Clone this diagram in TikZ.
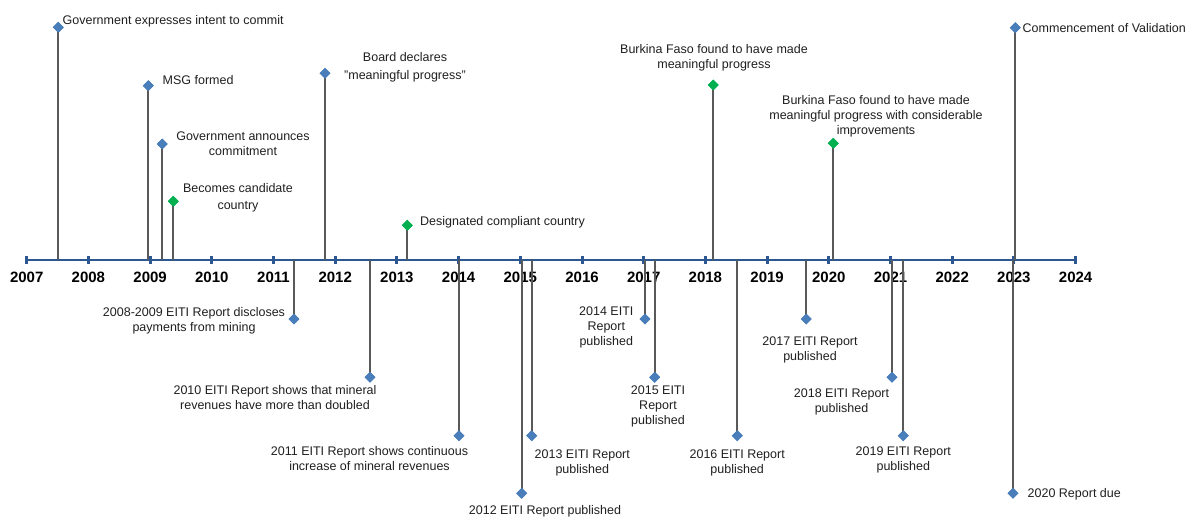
\documentclass[tikz,border=0pt]{standalone}
\usepackage{fontspec}
\setmainfont{Liberation Sans}
\usetikzlibrary{shapes.geometric}
\definecolor{axisblue}{HTML}{2C5790}
\definecolor{stemgray}{HTML}{595959}
\definecolor{dblue}{HTML}{4A7EBB}
\definecolor{dgreen}{HTML}{00B050}
\definecolor{txt}{HTML}{1F1F1F}
\tikzset{
  axisline/.style={draw=axisblue, line width=2.4pt},
  tickmark/.style={draw=axisblue, line width=3pt},
  stem/.style={draw=stemgray, line width=2pt},
  bdia/.style={diamond, fill=dblue, inner sep=0pt, minimum size=11pt},
  gdia/.style={diamond, fill=dgreen, inner sep=0pt, minimum size=11pt},
  lbl/.style={text=txt, font=\fontsize{12.5}{15}\selectfont, inner sep=0pt, align=center},
  yearlbl/.style={text=black, font=\fontsize{15}{17}\selectfont\bfseries, inner sep=0pt},
}
\begin{document}
\begin{tikzpicture}[x=1pt, y=-1pt]
\useasboundingbox (0,0) rectangle (1189,518);
% axis
\coordinate (ax0) at (26.7,260);
\coordinate (ax1) at (1075.6,260);
\draw[axisline] (ax0) -- (ax1);
\foreach \i in {0,...,17}{
  \pgfmathsetmacro{\xx}{26.7+61.7*\i}
  \pgfmathtruncatemacro{\yr}{2007+\i}
  \draw[tickmark] (\xx,256.3) -- (\xx,263.7);
  \node[yearlbl] (y\yr) at (\xx,277.7) {\yr};
}
% stem bases on axis
\coordinate (b1) at (58.3,260);
\coordinate (b2) at (148.3,260);
\coordinate (b3) at (162.3,260);
\coordinate (b4) at (173.3,260);
\coordinate (b5) at (325,260);
\coordinate (b6) at (407.3,260);
\coordinate (b7) at (713.3,260);
\coordinate (b8) at (833.3,260);
\coordinate (b9) at (1015.3,260);
\coordinate (b10) at (294,260);
\coordinate (b11) at (370,260);
\coordinate (b12) at (459,260);
\coordinate (b13) at (521.7,260);
\coordinate (b14) at (531.7,260);
\coordinate (b15) at (645,260);
\coordinate (b16) at (654.7,260);
\coordinate (b17) at (737.3,260);
\coordinate (b18) at (806.3,260);
\coordinate (b19) at (892,260);
\coordinate (b20) at (903.3,260);
\coordinate (b21) at (1013,260);
% diamonds
\node[bdia] (d1) at (58.3,27.3) {};
\node[bdia] (d2) at (148.3,85.7) {};
\node[bdia] (d3) at (162.3,144) {};
\node[gdia] (d4) at (173.3,201.3) {};
\node[bdia] (d5) at (325,73.3) {};
\node[gdia] (d6) at (407.3,225.3) {};
\node[gdia] (d7) at (713.3,85) {};
\node[gdia] (d8) at (833.3,143.3) {};
\node[bdia] (d9) at (1015.3,27.7) {};
\node[bdia] (d10) at (294,319) {};
\node[bdia] (d11) at (370,377.3) {};
\node[bdia] (d12) at (459,435.7) {};
\node[bdia] (d13) at (521.7,493.3) {};
\node[bdia] (d14) at (531.7,435.7) {};
\node[bdia] (d15) at (645,319) {};
\node[bdia] (d16) at (654.7,377.3) {};
\node[bdia] (d17) at (737.3,435.7) {};
\node[bdia] (d18) at (806.3,319) {};
\node[bdia] (d19) at (892,377.3) {};
\node[bdia] (d20) at (903.3,435.7) {};
\node[bdia] (d21) at (1013,493.3) {};
% stems
\foreach \k in {1,...,21}{
  \draw[stem] (b\k) -- (d\k.center);
}
% redraw diamonds on top
\foreach \k/\s in {1/bdia,2/bdia,3/bdia,4/gdia,5/bdia,6/gdia,7/gdia,8/gdia,9/bdia,10/bdia,11/bdia,12/bdia,13/bdia,14/bdia,15/bdia,16/bdia,17/bdia,18/bdia,19/bdia,20/bdia,21/bdia}{
  \node[\s] at (d\k) {};
}
% labels above
\node[lbl, anchor=west] (l1) at (62.5,21.3) {Government expresses intent to commit};
\node[lbl, anchor=west] (l2) at (162.5,80.3) {MSG formed};
\node[lbl] (l3) at (243,144.2) {Government announces\\commitment};
\node[lbl] (l4) at (238,198) {Becomes candidate\\[2.4pt]country};
\node[lbl] (l5) at (405,67.2) {Board declares\\[2.7pt]"meaningful progress"};
\node[lbl, anchor=west] (l6) at (420,222.3) {Designated compliant country};
\node[lbl] (l7) at (714,57.7) {Burkina Faso found to have made\\meaningful progress};
\node[lbl] (l8) at (876,116.4) {Burkina Faso found to have made\\[-0.3pt]meaningful progress with considerable\\[-0.3pt]improvements};
\node[lbl, anchor=west] (l9) at (1022.5,28) {Commencement of Validation};
% labels below
\node[lbl] (l10) at (194,320.5) {2008-2009 EITI Report discloses\\payments from mining};
\node[lbl] (l11) at (275,397.2) {2010 EITI Report shows that mineral\\revenues have more than doubled};
\node[lbl] (l12) at (369.5,458.4) {2011 EITI Report shows continuous\\increase of mineral revenues};
\node[lbl] (l13) at (545,511) {2012 EITI Report published};
\node[lbl] (l14) at (582.3,463.2) {2013 EITI Report\\published};
\node[lbl] (l15) at (606.3,327) {2014 EITI\\Report\\published};
\node[lbl] (l16) at (658,406.5) {2015 EITI\\Report\\published};
\node[lbl] (l17) at (737.2,463.2) {2016 EITI Report\\published};
\node[lbl] (l18) at (810,349.5) {2017 EITI Report\\published};
\node[lbl] (l19) at (841.5,401.5) {2018 EITI Report\\published};
\node[lbl] (l20) at (903.3,460) {2019 EITI Report\\published};
\node[lbl, anchor=west] (l21) at (1027.5,494) {2020 Report due};
\end{tikzpicture}
\end{document}
